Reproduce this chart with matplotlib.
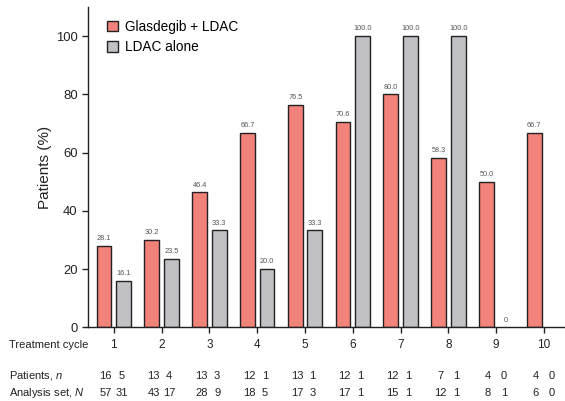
import numpy as np
import matplotlib
matplotlib.use("Agg")
import matplotlib.pyplot as plt
from matplotlib.patches import Patch
import matplotlib.transforms as mtransforms

plt.rcParams['font.family'] = ['Liberation Sans', 'DejaVu Sans']
plt.rcParams['mathtext.fontset'] = 'custom'
plt.rcParams['mathtext.it'] = 'Liberation Sans:italic'
plt.rcParams['mathtext.rm'] = 'Liberation Sans'

cycles = [1, 2, 3, 4, 5, 6, 7, 8, 9, 10]
glas_pct = [28.1, 30.2, 46.4, 66.7, 76.5, 70.6, 80.0, 58.3, 50.0, 66.7]
ldac_pct = [16.1, 23.5, 33.3, 20.0, 33.3, 100.0, 100.0, 100.0, 0.0, None]
glas_n = [16, 13, 13, 12, 13, 12, 12, 7, 4, 4]
ldac_n = [5, 4, 3, 1, 1, 1, 1, 1, 0, 0]
glas_N = [57, 43, 28, 18, 17, 17, 15, 12, 8, 6]
ldac_N = [31, 17, 9, 5, 3, 1, 1, 1, 1, 0]

red = '#F2837A'
grey = '#C1C0C5'
edge = '#222222'

fig = plt.figure(figsize=(5.65, 4.01), dpi=100)
ax = fig.add_axes([0.1558, 0.1833, 0.8442, 0.7992])

x = np.array(cycles, dtype=float)
off = 0.205
w = 0.31

ax.bar(x - off, glas_pct, width=w, color=red, edgecolor=edge, linewidth=1.0, zorder=2)
ldac_x = [xi + off for xi, v in zip(x, ldac_pct) if v is not None]
ldac_v = [v for v in ldac_pct if v is not None]
# zero-height bars are not drawn, only their label
bar_x = [xi for xi, v in zip(ldac_x, ldac_v) if v > 0]
bar_v = [v for v in ldac_v if v > 0]
ax.bar(bar_x, bar_v, width=w, color=grey, edgecolor=edge, linewidth=1.0, zorder=2)

def fmt(v):
    return "0" if v == 0 else f"{v:.1f}"

for xi, v in zip(x - off, glas_pct):
    ax.text(xi, v + 1.3, fmt(v), ha='center', va='bottom', fontsize=5.3, color='#555555')
for xi, v in zip(ldac_x, ldac_v):
    ax.text(xi, v + 1.3, fmt(v), ha='center', va='bottom', fontsize=5.3, color='#555555')

ax.set_xlim(0.46, 10.44)
ax.set_ylim(0, 110)
ax.set_xticks(cycles)
ax.set_xticklabels([str(c) for c in cycles], fontsize=8.5, color='#222222')
ax.set_yticks([0, 20, 40, 60, 80, 100])
ax.tick_params(axis='y', labelsize=9.4, length=4, width=1, colors='#222222')
ax.tick_params(axis='x', length=4, width=1, pad=4, colors='#222222')
for s in ['top', 'right']:
    ax.spines[s].set_visible(False)
for s in ['left', 'bottom']:
    ax.spines[s].set_linewidth(1.0)
    ax.spines[s].set_color('#222222')
ax.set_ylabel('Patients (%)', fontsize=11, color='#222222', labelpad=3)

handles = [Patch(facecolor=red, edgecolor=edge, linewidth=1.0, label='Glasdegib + LDAC'),
           Patch(facecolor=grey, edgecolor=edge, linewidth=1.0, label='LDAC alone')]
ax.legend(handles=handles, loc='upper left', bbox_to_anchor=(0.023, 0.985), frameon=False,
          fontsize=9.8, handlelength=0.8, handleheight=0.8, handletextpad=0.5,
          labelspacing=0.45, borderaxespad=0.2)

# table rows under the axis
trans = mtransforms.blended_transform_factory(ax.transData, fig.transFigure)
y_c = 1 - 345 / 401
y_n = 1 - 376 / 401
y_N = 1 - 393 / 401
fig.text(9 / 565, y_c, 'Treatment cycle', fontsize=8, va='center', ha='left', color='#222222')
fig.text(9 / 565, y_n, 'Patients, $\\it{n}$', fontsize=8, va='center', ha='left', color='#222222')
fig.text(9 / 565, y_N, 'Analysis set, $\\it{N}$', fontsize=8, va='center', ha='left', color='#222222')

for xi, a, b, c, d in zip(x, glas_n, ldac_n, glas_N, ldac_N):
    ax.text(xi - 0.17, y_n, str(a), transform=trans, ha='center', va='center', fontsize=8, color='#222222')
    ax.text(xi + 0.16, y_n, str(b), transform=trans, ha='center', va='center', fontsize=8, color='#222222')
    ax.text(xi - 0.17, y_N, str(c), transform=trans, ha='center', va='center', fontsize=8, color='#222222')
    ax.text(xi + 0.16, y_N, str(d), transform=trans, ha='center', va='center', fontsize=8, color='#222222')

fig.savefig('out.png', dpi=100)
